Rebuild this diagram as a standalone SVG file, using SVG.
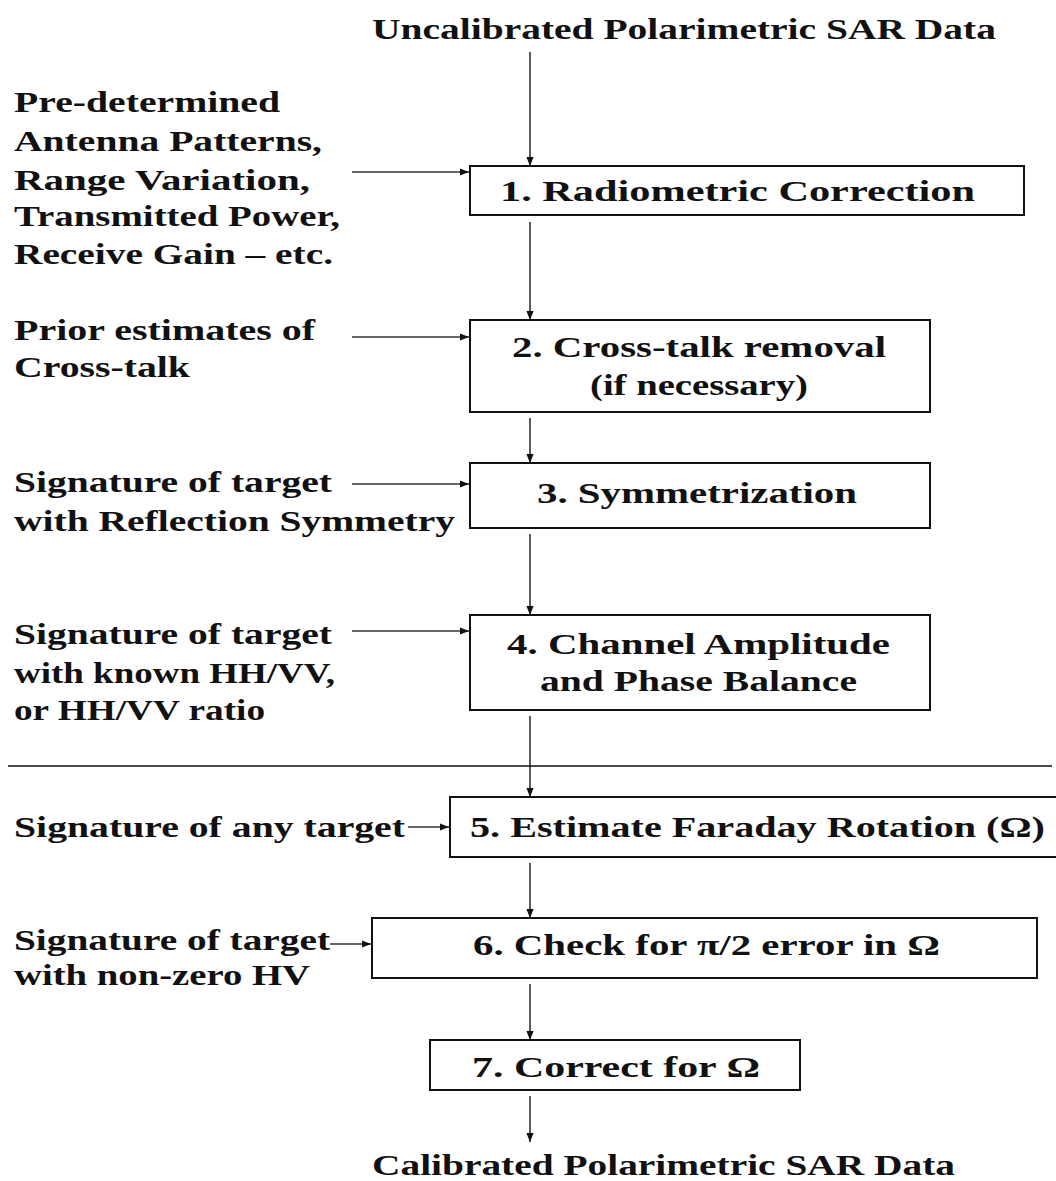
<svg xmlns="http://www.w3.org/2000/svg" width="1056" height="1181" viewBox="0 0 1056 1181" font-family="Liberation Serif, Times New Roman, DejaVu Serif, serif" font-weight="bold" font-size="29">
<style>
.box{fill:#fff;stroke:#111;stroke-width:2}
.c{fill:none;stroke:#333;stroke-width:1.6}
.sep{stroke:#111;stroke-width:1.6}
.t{fill:#111}
</style>
<defs>
<marker id="ah" viewBox="0 0 10 10" refX="10" refY="5" markerWidth="9" markerHeight="9" markerUnits="userSpaceOnUse" orient="auto">
<path d="M0,1 L10,5 L0,9 Z" fill="#111"/>
</marker>
</defs>
<rect width="1056" height="1181" fill="#fff"/>
<g id="connectors">
<line class="c" x1="530" y1="52" x2="530" y2="166" marker-end="url(#ah)"/>
<line class="c" x1="352" y1="172" x2="469" y2="172" marker-end="url(#ah)"/>
<line class="c" x1="530" y1="222" x2="530" y2="320" marker-end="url(#ah)"/>
<line class="c" x1="352" y1="337" x2="469" y2="337" marker-end="url(#ah)"/>
<line class="c" x1="530" y1="418" x2="530" y2="463" marker-end="url(#ah)"/>
<line class="c" x1="352" y1="484" x2="469" y2="484" marker-end="url(#ah)"/>
<line class="c" x1="530" y1="534" x2="530" y2="615" marker-end="url(#ah)"/>
<line class="c" x1="352" y1="631" x2="469" y2="631" marker-end="url(#ah)"/>
<line class="c" x1="530" y1="716" x2="530" y2="797" marker-end="url(#ah)"/>
<line class="c" x1="408" y1="827" x2="449" y2="827" marker-end="url(#ah)"/>
<line class="c" x1="530" y1="863" x2="530" y2="918" marker-end="url(#ah)"/>
<line class="c" x1="330" y1="944" x2="371" y2="944" marker-end="url(#ah)"/>
<line class="c" x1="530" y1="984" x2="530" y2="1040" marker-end="url(#ah)"/>
<line class="c" x1="530" y1="1096" x2="530" y2="1142" marker-end="url(#ah)"/>
<line class="sep" x1="8" y1="766" x2="1052" y2="766"/>
</g>
<g id="input" class="t">
<text x="372" y="39" textLength="624" lengthAdjust="spacingAndGlyphs">Uncalibrated Polarimetric SAR Data</text>
</g>
<g id="step1" class="t">
<rect class="box" x="470" y="166" width="554" height="49"/>
<text x="500" y="201" textLength="475" lengthAdjust="spacingAndGlyphs">1.  Radiometric Correction</text>
</g>
<g id="input1" class="t">
<text x="14" y="112" textLength="266" lengthAdjust="spacingAndGlyphs">Pre-determined</text>
<text x="14" y="151" textLength="308" lengthAdjust="spacingAndGlyphs">Antenna Patterns,</text>
<text x="14" y="190" textLength="296" lengthAdjust="spacingAndGlyphs">Range Variation,</text>
<text x="14" y="226" textLength="326" lengthAdjust="spacingAndGlyphs">Transmitted Power,</text>
<text x="14" y="264" textLength="319" lengthAdjust="spacingAndGlyphs">Receive Gain – etc.</text>
</g>
<g id="step2" class="t">
<rect class="box" x="470" y="320" width="460" height="92"/>
<text x="512" y="357" textLength="374" lengthAdjust="spacingAndGlyphs">2.  Cross-talk removal</text>
<text x="590" y="395" textLength="218" lengthAdjust="spacingAndGlyphs">(if necessary)</text>
</g>
<g id="input2" class="t">
<text x="14" y="340" textLength="301" lengthAdjust="spacingAndGlyphs">Prior estimates of</text>
<text x="14" y="377" textLength="176" lengthAdjust="spacingAndGlyphs">Cross-talk</text>
</g>
<g id="step3" class="t">
<rect class="box" x="470" y="463" width="460" height="65"/>
<text x="537" y="503" textLength="320" lengthAdjust="spacingAndGlyphs">3.  Symmetrization</text>
</g>
<g id="input3" class="t">
<text x="14" y="492" textLength="318" lengthAdjust="spacingAndGlyphs">Signature of target</text>
<text x="14" y="531" textLength="441" lengthAdjust="spacingAndGlyphs">with Reflection Symmetry</text>
</g>
<g id="step4" class="t">
<rect class="box" x="470" y="615" width="460" height="95"/>
<text x="507" y="654" textLength="383" lengthAdjust="spacingAndGlyphs">4.  Channel Amplitude</text>
<text x="540" y="691" textLength="317" lengthAdjust="spacingAndGlyphs">and Phase Balance</text>
</g>
<g id="input4" class="t">
<text x="14" y="644" textLength="318" lengthAdjust="spacingAndGlyphs">Signature of target</text>
<text x="14" y="683" textLength="321" lengthAdjust="spacingAndGlyphs">with known HH/VV,</text>
<text x="14" y="720" textLength="251" lengthAdjust="spacingAndGlyphs">or HH/VV ratio</text>
</g>
<g id="step5" class="t">
<rect class="box" x="450" y="797" width="610" height="60"/>
<text x="470" y="837" textLength="575" lengthAdjust="spacingAndGlyphs">5.  Estimate Faraday Rotation (Ω)</text>
</g>
<g id="input5" class="t">
<text x="14" y="837" textLength="391" lengthAdjust="spacingAndGlyphs">Signature of any target</text>
</g>
<g id="step6" class="t">
<rect class="box" x="372" y="918" width="665" height="60"/>
<text x="473" y="955" textLength="467" lengthAdjust="spacingAndGlyphs">6.  Check for π/2 error in Ω</text>
</g>
<g id="input6" class="t">
<text x="14" y="950" textLength="316" lengthAdjust="spacingAndGlyphs">Signature of target</text>
<text x="14" y="985" textLength="296" lengthAdjust="spacingAndGlyphs">with non-zero HV</text>
</g>
<g id="step7" class="t">
<rect class="box" x="430" y="1040" width="370" height="50"/>
<text x="472" y="1077" textLength="288" lengthAdjust="spacingAndGlyphs">7.  Correct for Ω</text>
</g>
<g id="output" class="t">
<text x="372" y="1175" textLength="583" lengthAdjust="spacingAndGlyphs">Calibrated Polarimetric SAR Data</text>
</g>
</svg>
